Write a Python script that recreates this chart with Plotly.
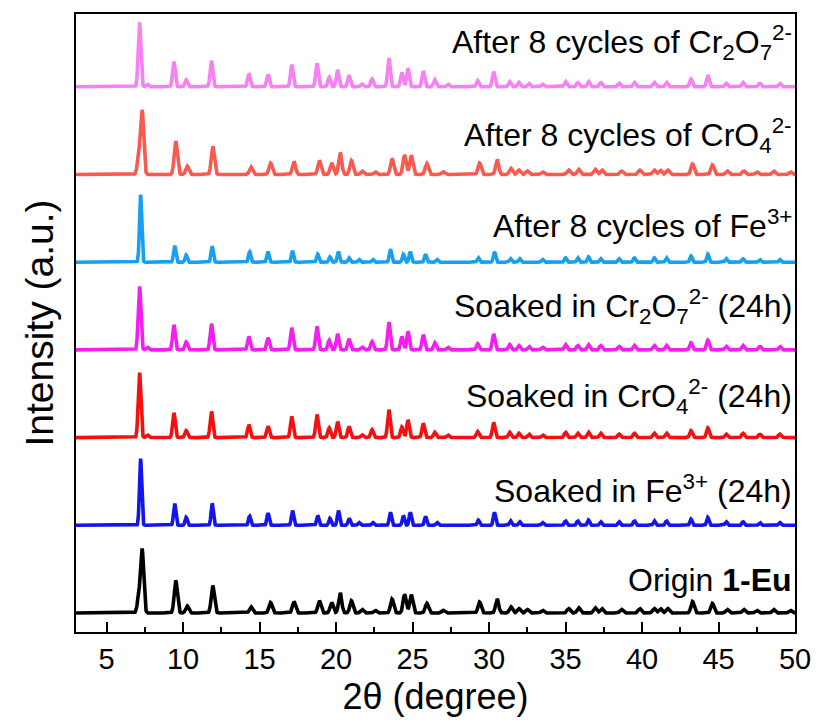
import numpy as np
import plotly.graph_objects as go

# ---------------- data ----------------
two_theta_min, two_theta_max, two_theta_step = 3.0, 50.0, 0.02

# Peak positions (2theta, degree)
pos_origin = [7.10, 7.32, 9.52, 10.27, 11.94, 14.44, 15.72, 17.25, 18.91, 19.71, 20.27, 21.00,
              21.70, 22.56, 23.66, 24.48, 24.91, 25.93, 27.00, 29.38, 30.53, 31.43, 31.95, 32.50,
              33.50, 35.20, 35.86, 36.94, 37.37, 38.66, 39.85, 40.80, 41.20, 41.68, 43.30, 44.60,
              45.57, 46.65, 47.50, 48.60, 49.70]
pos_cr = [7.15, 7.66, 9.40, 10.20, 11.85, 14.30, 15.55, 17.10, 18.75, 19.55, 20.10, 20.85,
          21.70, 22.35, 23.45, 24.30, 24.70, 25.70, 26.45, 27.30, 29.25, 30.30, 31.35, 31.95,
          32.60, 33.50, 35.00, 35.80, 36.50, 37.30, 38.50, 39.50, 40.80, 41.60, 43.20, 44.30,
          45.50, 46.60, 47.70, 49.00]
pos_fe = [7.22, 9.45, 10.20, 11.90, 14.35, 15.55, 17.15, 18.80, 19.60, 20.15, 20.85, 21.50,
          22.40, 23.55, 24.40, 24.85, 25.85, 26.60, 29.30, 30.35, 31.40, 32.00, 33.50, 35.00,
          35.80, 36.50, 37.30, 38.50, 39.50, 40.80, 41.60, 43.20, 44.30, 45.50, 46.60, 47.70,
          49.00]

# Peak heights (arbitrary units, stacking offset = 100)
h_origin = [16, 72, 37, 8, 31, 7, 12, 13, 14, 12, 23, 14, 4, 3, 16, 21, 21, 11, 3, 12.5, 16,
            7, 5, 4, 3, 5, 6, 6, 5, 4, 5, 5, 5, 5, 13, 11, 4, 4, 3, 4, 3]
h_soak_fe = [76, 25, 9, 25, 10.5, 14, 17, 11, 8, 17, 8, 3, 3, 15, 11, 15, 10, 3, 6, 15, 5, 4,
             3, 5, 5, 6, 4, 4, 5, 5, 5, 7, 9, 4, 4, 3, 3]
h_soak_cro4 = [74.5, 3, 28, 8, 30, 14.5, 13, 24, 26.5, 11, 18, 12.5, 3, 9, 32, 12, 20, 16, 6, 3,
               7, 17, 6, 5, 4, 3, 6, 5, 6, 5, 4, 5, 5, 5, 8, 11, 4, 5, 4, 4]
h_soak_cr2o7 = [73, 3, 28.5, 9, 30, 15, 14, 25, 27, 11, 18, 12.5, 3, 9.5, 32, 15, 21, 17, 8, 3,
                7, 18, 6, 5, 4, 3, 6, 5, 6, 5, 4, 5, 5, 5, 8, 11, 4, 5, 4, 4]
h_after_fe = [77, 19, 8, 18, 12, 12, 13, 9, 6, 12, 5, 3, 3, 15, 9, 12, 9, 3, 5, 12, 4, 4, 3, 5,
              5, 6, 4, 4, 5, 5, 5, 7, 9, 4, 4, 3, 3]
h_after_cro4 = [18, 72, 38, 9.5, 32, 8.5, 13, 15, 16, 13, 25, 16, 4, 3, 18, 22, 22, 12.5, 3, 13,
                17, 7, 5, 4, 3, 5, 6, 6, 5, 4, 5, 5, 5, 5, 12, 11, 4, 4, 3, 4, 3]
h_after_cr2o7 = [74, 3, 28.5, 8, 30, 15, 14, 25, 27, 11, 19, 13, 3, 9, 33, 16, 21, 18, 8, 3, 7,
                 17, 6, 5, 4, 3, 6, 5, 6, 5, 4, 5, 5, 5, 9, 13, 4, 5, 4, 4]

series_names = ["Origin 1-Eu", "Soaked in Fe3+ (24h)", "Soaked in CrO4 2- (24h)",
                "Soaked in Cr2O7 2- (24h)", "After 8 cycles of Fe3+",
                "After 8 cycles of CrO4 2-", "After 8 cycles of Cr2O7 2-"]
series_pos = [pos_origin, pos_fe, pos_cr, pos_cr, pos_fe, pos_origin, pos_cr]
series_h = [h_origin, h_soak_fe, h_soak_cro4, h_soak_cr2o7, h_after_fe, h_after_cro4, h_after_cr2o7]
series_fwhm = [0.24, 0.17, 0.20, 0.20, 0.17, 0.24, 0.20]
offsets = [0, 100, 200, 300, 400, 500, 600]
label_text = ["Origin <b>1-Eu</b>",
              "Soaked in Fe<sup>3+</sup> (24h)",
              "Soaked in CrO<sub>4</sub><sup>2-</sup> (24h)",
              "Soaked in Cr<sub>2</sub>O<sub>7</sub><sup>2-</sup> (24h)",
              "After 8 cycles of Fe<sup>3+</sup>",
              "After 8 cycles of CrO<sub>4</sub><sup>2-</sup>",
              "After 8 cycles of Cr<sub>2</sub>O<sub>7</sub><sup>2-</sup>"]
label_dy = [38, 41, 47, 50, 43, 44, 50]
colors = ["#000000", "#1414EE", "#F50F0F", "#F51EF0", "#18A0F0", "#F85A50", "#F780F2"]

# ---------------- build profiles ----------------
x = np.arange(two_theta_min, two_theta_max + 1e-9, two_theta_step)


def profile(pos, heights, fwhm):
    sig = fwhm / 2.3548
    y = np.zeros_like(x)
    for p, h in zip(pos, heights):
        y += h * np.exp(-0.5 * ((x - p) / sig) ** 2)
    return y


fig = go.Figure()
for name, pos, hs, fw, off, col in zip(series_names, series_pos, series_h, series_fwhm,
                                        offsets, colors):
    fig.add_trace(go.Scatter(x=x, y=profile(pos, hs, fw) + off, mode="lines", name=name,
                             line=dict(color=col, width=3.6), showlegend=False))

for txt, off, dy in zip(label_text, offsets, label_dy):
    fig.add_annotation(x=49.95, y=off + dy, xref="x", yref="y", text=txt, showarrow=False,
                       xanchor="right", yanchor="middle",
                       font=dict(family="Liberation Sans, Arial", size=32, color="black"))

fig.update_layout(
    width=823, height=726,
    margin=dict(l=76, r=20, t=14, b=94),
    paper_bgcolor="white", plot_bgcolor="white",
    font=dict(family="Liberation Sans, Arial", color="black"),
)
fig.update_xaxes(
    range=[two_theta_min, two_theta_max], tick0=0, dtick=5,
    ticks="inside", ticklen=10, tickwidth=1.5, tickcolor="black",
    minor=dict(dtick=2.5, tick0=0, ticks="inside", ticklen=5, tickwidth=1.5, tickcolor="black"),
    showline=True, linecolor="black", linewidth=2, mirror=True,
    showgrid=False, zeroline=False,
    tickfont=dict(size=29, family="Liberation Sans, Arial"),
    title=dict(text="2θ (degree)", font=dict(size=36, family="Liberation Sans, Arial"), standoff=10),
)
fig.update_yaxes(
    range=[-21.7, 683], showticklabels=False, ticks="",
    showline=True, linecolor="black", linewidth=2, mirror=True,
    showgrid=False, zeroline=False,
    title=dict(text="Intensity (a.u.)", font=dict(size=39, family="Liberation Sans, Arial"), standoff=8),
)

fig.write_html("out.html")
